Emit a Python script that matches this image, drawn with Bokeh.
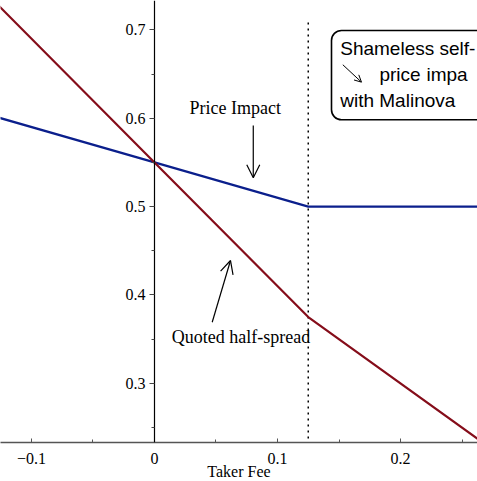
from bokeh.plotting import figure
from bokeh.models import Range1d, FixedTicker, Arrow, OpenHead, Label
from bokeh.core.properties import value
from bokeh.embed import file_html
from bokeh.resources import INLINE

# ---- data ----
fee = [-0.13, 0.0, 0.125, 0.27]
price_impact = [0.602, 0.55, 0.50, 0.50]
half_spread = [0.732, 0.55, 0.375, 0.23]
fee_cap = 0.125
x_ticks = [-0.1, 0.0, 0.1, 0.2]
x_minor = [-0.05, 0.05, 0.15, 0.25]
x_tick_labels = ["\u22120.1", "0", "0.1", "0.2"]
y_ticks = [0.3, 0.4, 0.5, 0.6, 0.7]
y_minor = [0.25, 0.35, 0.45, 0.55, 0.65]
y_tick_labels = ["0.3", "0.4", "0.5", "0.6", "0.7"]

SERIF = "Liberation Serif"
SANS = "Liberation Sans"

p = figure(frame_width=477, frame_height=442,
           x_range=Range1d(-0.1252, 0.2626), y_range=Range1d(0.2331, 0.7332),
           output_backend="svg", toolbar_location=None, min_border=0,
           background_fill_color="white", border_fill_color="white")
p.outline_line_color = None
p.grid.visible = False

# x axis
xa = p.xaxis[0]
xa.ticker = FixedTicker(ticks=x_ticks, minor_ticks=x_minor)
xa.major_label_overrides = {t: l for t, l in zip(x_ticks, x_tick_labels)}
xa.axis_line_color = "#555555"
xa.axis_line_width = 1.5
xa.major_tick_in = 4
xa.major_tick_out = 0
xa.minor_tick_in = 3
xa.minor_tick_out = 0
xa.major_tick_line_color = "#555555"
xa.minor_tick_line_color = "#555555"
xa.major_label_text_font = SERIF
xa.major_label_text_font_size = "16px"
xa.major_label_text_color = "black"
xa.major_label_standoff = 10
xa.axis_label = "Taker Fee"
xa.axis_label_text_font = SERIF
xa.axis_label_text_font_size = "16px"
xa.axis_label_text_font_style = "normal"
xa.axis_label_text_color = "black"
xa.axis_label_standoff = -4

# y axis crossing at x = 0
ya = p.yaxis[0]
ya.fixed_location = 0
ya.ticker = FixedTicker(ticks=y_ticks, minor_ticks=y_minor)
ya.major_label_overrides = {t: l for t, l in zip(y_ticks, y_tick_labels)}
ya.axis_line_color = "black"
ya.axis_line_width = 1.2
ya.major_tick_in = 0
ya.major_tick_out = 5
ya.minor_tick_in = 0
ya.minor_tick_out = 3
ya.major_tick_line_color = "#444444"
ya.minor_tick_line_color = "#444444"
ya.major_label_text_font = SERIF
ya.major_label_text_font_size = "16px"
ya.major_label_text_color = "black"
ya.major_label_standoff = 4

# dotted fee cap line
p.line(x=[fee_cap, fee_cap], y=[0.7083, 0.2], line_color="black",
       line_width=1.5, line_dash="2 4")

# series
p.line(x=fee, y=price_impact, line_color="#0b1f8c", line_width=2.2)
p.line(x=fee, y=half_spread, line_color="#850d1a", line_width=2.2)

# annotations
p.add_layout(Label(x=0.0656, y=0.6118, text="Price Impact", text_align="center",
                   text_baseline="alphabetic", text_font=SERIF, text_font_size="18px",
                   text_color="black"))
p.add_layout(Arrow(end=OpenHead(size=13, line_width=1.2), x_start=0.0803, y_start=0.5918,
                   x_end=0.0803, y_end=0.5326, line_width=1.2))
p.add_layout(Label(x=0.0703, y=0.3527, text="Quoted half-spread", text_align="center",
                   text_baseline="alphabetic", text_font=SERIF, text_font_size="18px",
                   text_color="black"))
p.add_layout(Arrow(end=OpenHead(size=13, line_width=1.2), x_start=0.0469, y_start=0.3692,
                   x_end=0.0618, y_end=0.439, line_width=1.2))

# promo box (runs off the right edge, as in the original)
p.quad(left=[0.1439], right=[0.40], top=[0.6993], bottom=[0.5982],
       fill_color="white", line_color="black", line_width=1.6, border_radius=10)
p.text(x=[0.1510], y=[0.6789], text=["Shameless self-"],
       text_font=value(SANS), text_font_size="19px", text_baseline="alphabetic",
       text_color="black")
p.add_layout(Arrow(end=OpenHead(size=7, line_width=1.0), x_start=0.1531, y_start=0.6605,
                   x_end=0.1683, y_end=0.6408, line_width=1.0))
p.text(x=[0.1829, 0.2211], y=[0.6495, 0.6495], text=["price", "impa"],
       text_font=value(SANS), text_font_size="19px", text_baseline="alphabetic",
       text_color="black")
p.text(x=[0.1510], y=[0.6200], text=["with Malinova"],
       text_font=value(SANS), text_font_size="19px", text_baseline="alphabetic",
       text_color="black")

open("out.html", "w").write(file_html(p, INLINE))
